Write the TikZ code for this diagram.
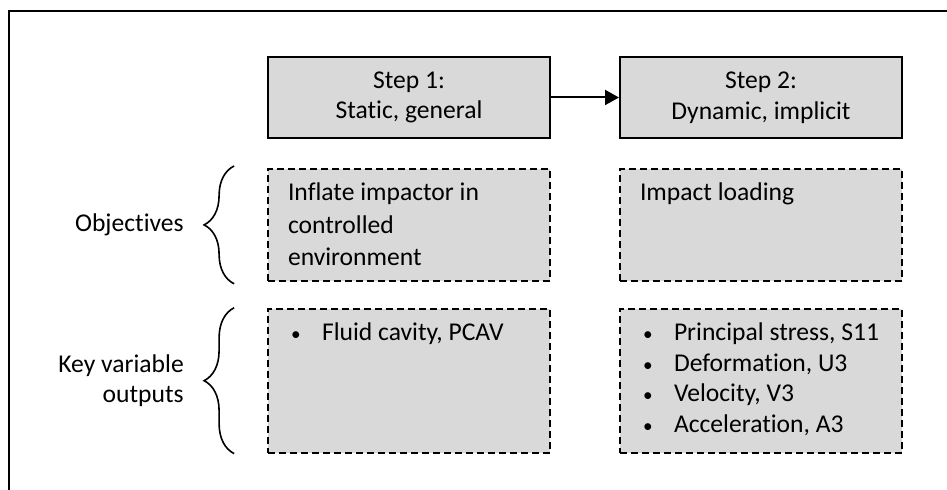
\documentclass[tikz,border=0pt]{standalone}
\usepackage{fontspec}
\setmainfont{Carlito}[Ligatures=NoCommon]
\usepackage{tikz}
\usetikzlibrary{arrows.meta,positioning,decorations.pathreplacing}
\definecolor{boxgrey}{RGB}{217,217,217}
\newcommand{\itemdot}{\hspace*{1.5pt}\makebox[15.5pt][l]{\scalebox{0.75}{\textbullet}}}

\begin{document}
\begin{tikzpicture}[
    font=\fontsize{12.8}{15.3}\selectfont,
    stepbox/.style={draw,fill=boxgrey,line width=1pt,
      minimum width=141pt,minimum height=40.5pt,align=center,inner sep=0pt},
    taskbox/.style={draw,fill=boxgrey,line width=0.9pt,
      dash pattern=on 3.5pt off 2pt,inner xsep=10pt,inner ysep=7pt},
    sidelabel/.style={align=right,inner sep=0pt},
    bracket/.style={decorate,decoration={brace,amplitude=15pt},line width=0.8pt}]
      \useasboundingbox (0,0) rectangle (473.5pt,245pt);
      % frame, cut off at right and bottom
      \draw[line width=0.8pt] (4.5pt,0) -- (4.5pt,239.5pt) -- (473.5pt,239.5pt);

      \node[stepbox] (step1) at (204.5pt,196.25pt) {Step 1:\\Static, general};
      \node[stepbox,right=34pt of step1] (step2) {Step 2:\\Dynamic, implicit};
      \draw[-{Triangle[length=7pt,width=7.5pt]},line width=1pt] (step1) -- (step2);

      \node[taskbox,below=14.5pt of step1] (obj1) {%
        \parbox[c][42pt][t]{121pt}{\baselineskip=16.3pt
          Inflate impactor in\\controlled\\environment}};
      \node[taskbox,below=14.5pt of step2] (obj2) {%
        \parbox[c][42pt][t]{121pt}{Impact loading}};

      \node[taskbox,below=13pt of obj1] (key1) {%
        \parbox[c][58pt][t]{121pt}{\itemdot Fluid cavity, PCAV}};
      \node[taskbox,below=13pt of obj2] (key2) {%
        \parbox[c][58pt][t]{121pt}{%
          \itemdot Principal stress, S11\\
          \itemdot Deformation, U3\\
          \itemdot Velocity, V3\\
          \itemdot Acceleration, A3}};

      \draw[bracket] ([xshift=-16.5pt,yshift=-1pt]obj1.south west)
        -- ([xshift=-16.5pt,yshift=1pt]obj1.north west);
      \draw[bracket] ([xshift=-16.5pt]key1.south west)
        -- ([xshift=-16.5pt]key1.north west);

      \node[sidelabel,left=41.5pt of obj1] (objlbl) {Objectives};
      \node[sidelabel,left=41.5pt of key1] (keylbl) {Key variable\\outputs};
    \end{tikzpicture}
\end{document}
